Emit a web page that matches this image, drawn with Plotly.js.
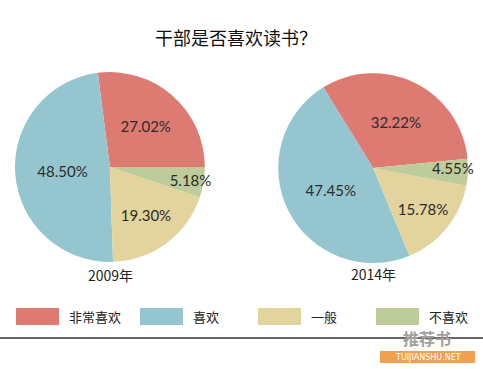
<!DOCTYPE html>
<html>
<head>
<meta charset="utf-8">
<script src="https://cdn.plot.ly/plotly-3.0.1.min.js"></script>
<style>html,body{margin:0;padding:0;background:#fff;}#chart{width:483px;height:369px;}</style>
</head>
<body>
<div id="chart"></div>
<script>
const categories = ['非常喜欢', '喜欢', '一般', '不喜欢'];
const colors = ['#DD7B73', '#95C6CF', '#E3D39C', '#BECB9A'];
const years = ['2009年', '2014年'];
const values2009 = [27.02, 48.50, 19.30, 5.18];
const values2014 = [32.22, 47.45, 15.78, 4.55];
const rotations = [-7.3, -31.7];

const cjk = '"Noto Sans CJK SC", "Noto Sans", sans-serif';
const numFont = 'Lato, "Open Sans", sans-serif';

function pieTrace(vals, rot, dom) {
  return {
    type: 'pie', labels: categories, values: vals, sort: false,
    direction: 'counterclockwise', rotation: rot,
    marker: {colors: colors, line: {width: 0}},
    textinfo: 'none', texttemplate: '%{value:.2f}%',
    textposition: 'inside', insidetextorientation: 'horizontal',
    insidetextfont: {family: numFont, size: 15, color: '#2b2b2b'},
    hoverinfo: 'label+value', showlegend: false, domain: dom
  };
}

const data = [
  pieTrace(values2009, rotations[0], {x: [0.031, 0.424], y: [0.29, 0.805]}),
  pieTrace(values2014, rotations[1], {x: [0.576, 0.969], y: [0.287, 0.802]})
];

const shapes = [];
const annotations = [
  {text: '干部是否喜欢读书？', x: 0.489, y: 1 - 37/369, xref: 'paper', yref: 'paper', showarrow: false,
   font: {family: cjk, size: 18, color: '#111'}, xanchor: 'center', yanchor: 'middle'},
  {text: years[0], x: 110/483, y: 1 - 275/369, xref: 'paper', yref: 'paper', showarrow: false,
   font: {family: cjk, size: 14, color: '#222'}, xanchor: 'center', yanchor: 'middle'},
  {text: years[1], x: 373/483, y: 1 - 274/369, xref: 'paper', yref: 'paper', showarrow: false,
   font: {family: cjk, size: 14, color: '#222'}, xanchor: 'center', yanchor: 'middle'}
];

// custom legend built from categories / colors
const legX = [16, 140, 258, 376];
const legTextX = [68, 192, 310, 428];
categories.forEach((c, i) => {
  shapes.push({type: 'rect', xref: 'paper', yref: 'paper',
    x0: legX[i]/483, x1: (legX[i] + 43)/483, y0: 1 - 325/369, y1: 1 - 308/369,
    fillcolor: colors[i], line: {width: 0}});
  annotations.push({text: c, x: legTextX[i]/483, y: 1 - 316/369, xref: 'paper', yref: 'paper',
    showarrow: false, xanchor: 'left', yanchor: 'middle', borderpad: 0,
    font: {family: cjk, size: 13, color: '#222'}});
});

// bottom rule
shapes.push({type: 'line', xref: 'paper', yref: 'paper', x0: 0, x1: 1,
  y0: 1 - 338/369, y1: 1 - 338/369, line: {color: '#666', width: 2}});

// watermark
shapes.push({type: 'rect', xref: 'paper', yref: 'paper', x0: 380/483, x1: 475/483,
  y0: 1 - 363/369, y1: 1 - 351/369, fillcolor: '#F0A050', line: {width: 0}});
annotations.push({text: 'TUIJIANSHU.NET', x: 427.5/483, y: 1 - 357/369, xref: 'paper', yref: 'paper',
  showarrow: false, xanchor: 'center', yanchor: 'middle', borderpad: 0,
  font: {family: 'DejaVu Sans', size: 8, color: '#fff'}});
annotations.push({text: '<b>推荐书</b>', x: 427/483, y: 1 - 338/369, xref: 'paper', yref: 'paper',
  showarrow: false, xanchor: 'center', yanchor: 'middle', borderpad: 0,
  font: {family: cjk, size: 16, color: '#a0a0a0'}});

const layout = {
  width: 483, height: 369,
  margin: {l: 0, r: 0, t: 0, b: 0},
  paper_bgcolor: '#fff', plot_bgcolor: '#fff',
  uniformtext: {minsize: 15, mode: 'show'},
  showlegend: false, shapes: shapes, annotations: annotations
};

Plotly.newPlot('chart', data, layout, {displayModeBar: false, staticPlot: true});
</script>
</body>
</html>
